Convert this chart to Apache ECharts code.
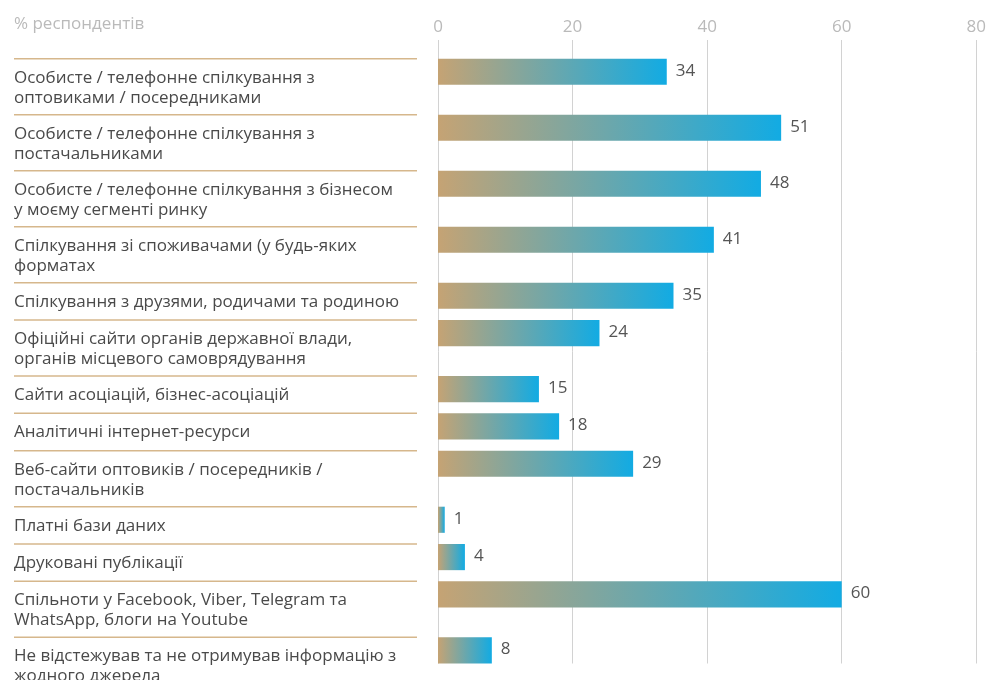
<!DOCTYPE html>
<html>
<head>
<meta charset="utf-8">
<script src="https://cdn.jsdelivr.net/npm/echarts@6/dist/echarts.min.js"></script>
<style>
  html, body { margin: 0; padding: 0; background: #ffffff; }
  #chart { width: 989px; height: 680px; }
</style>
</head>
<body>
<div id="chart"></div>
<script>
// Sources of market information, share of respondents
const categories = [
  'Особисте / телефонне спілкування з\nоптовиками / посередниками',
  'Особисте / телефонне спілкування з\nпостачальниками',
  'Особисте / телефонне спілкування з бізнесом\nу моєму сегменті ринку',
  'Спілкування зі споживачами (у будь-яких\nформатах',
  'Спілкування з друзями, родичами та родиною',
  'Офіційні сайти органів державної влади,\nорганів місцевого самоврядування',
  'Сайти асоціацій, бізнес-асоціацій',
  'Аналітичні інтернет-ресурси',
  'Веб-сайти оптовиків / посередників /\nпостачальників',
  'Платні бази даних',
  'Друковані публікації',
  'Спільноти у Facebook, Viber, Telegram та\nWhatsApp, блоги на Youtube',
  'Не відстежував та не отримував інформацію з\nжодного джерела'
];
const values = [34, 51, 48, 41, 35, 24, 15, 18, 29, 1, 4, 60, 8];
const xTicks = [0, 20, 40, 60, 80];
const unitLabel = '% респондентів';

// Row layout: a one-line label takes 2 units, a two-line label takes 3
const BAR_UNITS = 1.4;
const rowStarts = [];
let acc = 0;
categories.forEach(function (c) {
  rowStarts.push(acc);
  acc += c.split('\n').length + 1;
});
const yMax = rowStarts[rowStarts.length - 1] + BAR_UNITS;

const FONT = '"Open Sans", sans-serif';
const chart = echarts.init(document.getElementById('chart'));

chart.setOption({
  animation: false,
  grid: { left: 438, right: 12.5, top: 40, bottom: 16.5 },
  xAxis: {
    type: 'value',
    position: 'top',
    min: xTicks[0],
    max: xTicks[xTicks.length - 1],
    interval: xTicks[1] - xTicks[0],
    axisLine: { show: false },
    axisTick: { show: false },
    axisLabel: { color: '#bababa', fontSize: 17, fontFamily: FONT, margin: 4 },
    splitLine: { show: true, lineStyle: { color: '#d2d2d2', width: 1 } }
  },
  yAxis: {
    type: 'value',
    inverse: true,
    min: -1,
    max: yMax,
    show: false
  },
  graphic: [{
    type: 'text',
    left: 14,
    top: 16,
    style: { text: unitLabel, fill: '#bababa', font: '17px ' + FONT }
  }],
  series: [{
    type: 'custom',
    clip: false,
    data: values.map(function (v, i) { return [v, rowStarts[i], i]; }),
    encode: { x: 0, y: 1 },
    renderItem: function (params, api) {
      const v = api.value(0);
      const start = api.value(1);
      const i = api.value(2);
      const p0 = api.coord([0, start]);
      const p1 = api.coord([v, start + BAR_UNITS]);
      const h = p1[1] - p0[1];
      return {
        type: 'group',
        children: [
          {
            type: 'line',
            shape: { x1: 14, y1: p0[1], x2: 417, y2: p0[1] },
            style: { stroke: '#d6b78c', lineWidth: 1.5 }
          },
          {
            type: 'text',
            x: 14,
            y: p0[1] + 9,
            style: {
              text: categories[i],
              fill: '#4a4a4a',
              font: '17px ' + FONT,
              lineHeight: 20,
              verticalAlign: 'top'
            }
          },
          {
            type: 'rect',
            shape: { x: p0[0], y: p0[1], width: p1[0] - p0[0], height: h },
            style: {
              fill: new echarts.graphic.LinearGradient(0, 0, 1, 0, [
                { offset: 0, color: '#c5a374' },
                { offset: 1, color: '#12abe3' }
              ])
            }
          },
          {
            type: 'text',
            x: p1[0] + 9,
            y: p0[1] + h / 2 - 1,
            style: {
              text: String(v),
              fill: '#555555',
              font: '17px ' + FONT,
              verticalAlign: 'middle'
            }
          }
        ]
      };
    }
  }]
});
</script>
</body>
</html>
